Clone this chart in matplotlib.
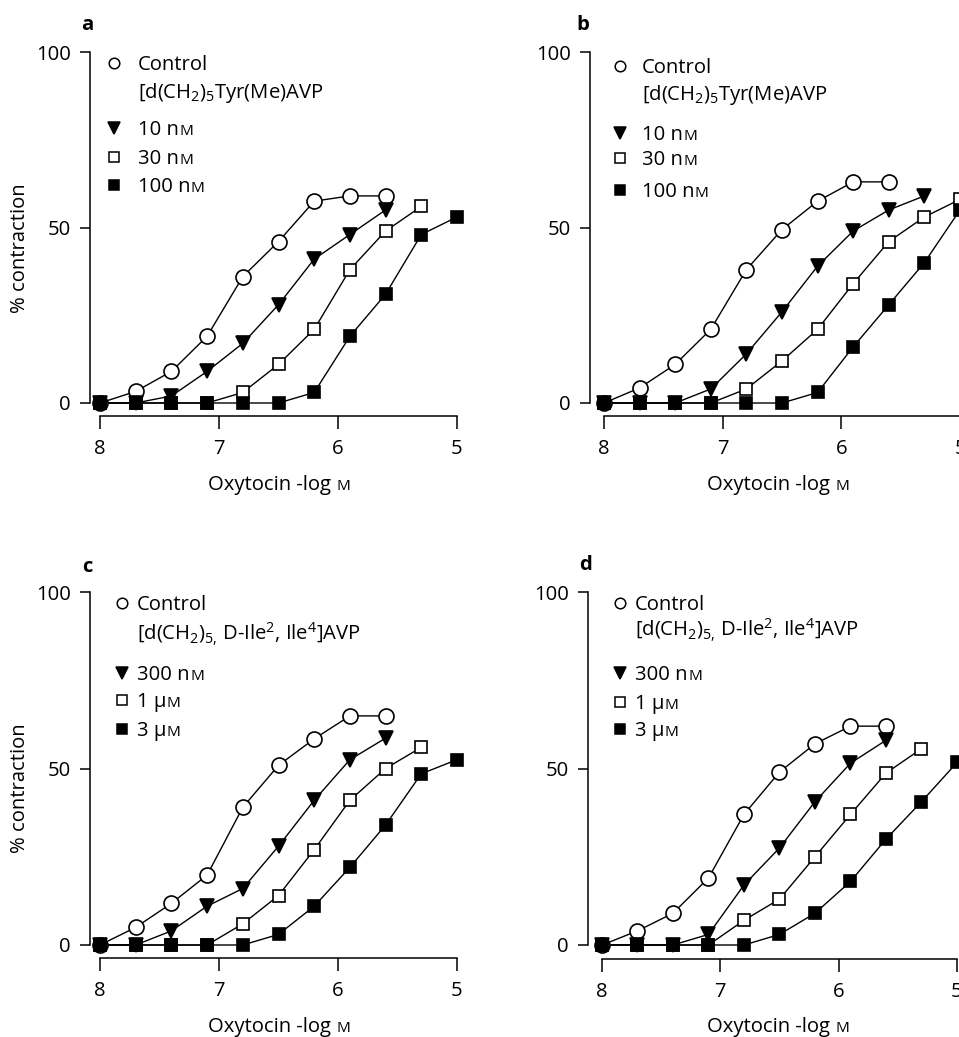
import matplotlib
matplotlib.use('Agg')
import matplotlib.pyplot as plt

W, H = 959, 1037
FONT = 'Open Sans'
plt.rcParams['font.family'] = [FONT, 'DejaVu Sans']
plt.rcParams['mathtext.fontset'] = 'custom'
plt.rcParams['mathtext.rm'] = FONT
plt.rcParams['mathtext.it'] = FONT + ':italic'
plt.rcParams['mathtext.bf'] = FONT + ':bold'
plt.rcParams['mathtext.default'] = 'regular'

# ---------------- data ----------------
log_conc = [8.0, 7.7, 7.4, 7.1, 6.8, 6.5, 6.2, 5.9, 5.6, 5.3, 5.0]

ctrl_a = [0, 3.3, 9, 19, 36, 46, 57.5, 59, 59]
c1_a = [0, 0, 2, 9, 17, 28, 41, 48, 55]
c2_a = [0, 0, 0, 0, 3, 11, 21, 38, 49, 56]
c3_a = [0, 0, 0, 0, 0, 0, 3, 19, 31, 48, 53]

ctrl_b = [0, 4.3, 11, 21, 38, 49.4, 57.5, 63, 63]
c1_b = [0, 0, 0, 4, 14, 26, 39, 49, 55, 59]
c2_b = [0, 0, 0, 0, 4, 12, 21, 34, 46, 53, 58]
c3_b = [0, 0, 0, 0, 0, 0, 3, 16, 28, 40, 55]

ctrl_c = [0, 5, 11.8, 19.8, 39, 50.9, 58.4, 64.9, 64.9]
c1_c = [0, 0, 4, 11, 16, 28, 41, 52.5, 58.6]
c2_c = [0, 0, 0, 0, 6, 14, 27, 41, 50, 56]
c3_c = [0, 0, 0, 0, 0, 3, 11, 22, 34, 48.5, 52.5]

ctrl_d = [0, 4, 9, 19, 37, 49, 57, 62, 62]
c1_d = [0, 0, 0, 3, 17, 27.5, 40.6, 51.5, 58]
c2_d = [0, 0, 0, 0, 7, 13, 25, 37, 48.7, 55.6]
c3_d = [0, 0, 0, 0, 0, 3, 9, 18, 30, 40.6, 51.7]

panel_labels = ['a', 'b', 'c', 'd']
antag_1 = r'[d(CH$_2$)$_5$Tyr(Me)AVP'
antag_2 = r'[d(CH$_2$)$_{5,}\,$D-Ile$^2$, Ile$^4$]AVP'
conc_1 = [('10 n', 'M'), ('30 n', 'M'), ('100 n', 'M')]
conc_2 = [('300 n', 'M'), ('1 \u00b5', 'M'), ('3 \u00b5', 'M')]
x_ticks = [8, 7, 6, 5]
y_ticks = [0, 50, 100]
y_label = '% contraction'
x_label = ('Oxytocin -log', 'M')

# ---------------- layout ----------------
FS = 14.6
PT = 0.72  # points per pixel at dpi 100

panels = [
    dict(lab='a', data=[ctrl_a, c1_a, c2_a, c3_a], antag=antag_1, conc=conc_1,
         rect=(100, 457, 52, 403), loff=10, boff=13,
         labpos=(87, 25), ylab=(20, 248), xlab=(279, 490),
         leg=dict(mx=114, tx=138, ys=[63, 91, 128, 157, 185])),
    dict(lab='b', data=[ctrl_b, c1_b, c2_b, c3_b], antag=antag_1, conc=conc_1,
         rect=(604, 960, 52, 403), loff=14, boff=13,
         labpos=(583, 25), ylab=None, xlab=(778, 490),
         leg=dict(mx=620, tx=642, ys=[66, 93, 133, 158, 190])),
    dict(lab='c', data=[ctrl_c, c1_c, c2_c, c3_c], antag=antag_2, conc=conc_2,
         rect=(100, 457, 592, 945), loff=10, boff=13,
         labpos=(87, 567), ylab=(20, 788), xlab=(279, 1032),
         leg=dict(mx=122, tx=137, ys=[603, 633, 673, 700, 729])),
    dict(lab='d', data=[ctrl_d, c1_d, c2_d, c3_d], antag=antag_2, conc=conc_2,
         rect=(602, 957, 592, 945), loff=14, boff=14,
         labpos=(586, 565), ylab=None, xlab=(778, 1032),
         leg=dict(mx=620, tx=635, ys=[603, 630, 673, 702, 729])),
]

styles = [
    dict(marker='o', ms=10.8, mfc='white', mec='black'),
    dict(marker='v', ms=10.5, mfc='black', mec='black'),
    dict(marker='s', ms=8.6, mfc='white', mec='black'),
    dict(marker='s', ms=8.6, mfc='black', mec='black'),
]
leg_ms = [7.6, 9.0, 7.2, 7.2]

fig = plt.figure(figsize=(W / 100, H / 100), dpi=100)
renderer = fig.canvas.get_renderer()


def fp(x, y):
    return x / W, 1 - y / H


def sc_text(x, yb, main, sc, size=FS, center=False, gap=0.5):
    t1 = fig.text(*fp(x, yb), main, fontsize=size, ha='left', va='baseline')
    t2 = fig.text(*fp(x, yb), sc, fontsize=size * 0.76, ha='left', va='baseline')
    w1 = t1.get_window_extent(renderer).width
    w2 = t2.get_window_extent(renderer).width
    x0 = x - (w1 + gap + w2) / 2 if center else x
    t1.set_position(fp(x0, yb))
    t2.set_position(fp(x0 + w1 + gap, yb))


for p in panels:
    l, r, t, b = p['rect']
    ax = fig.add_axes([l / W, 1 - b / H, (r - l) / W, (b - t) / H])
    ax.set_xlim(8, 5)
    ax.set_ylim(0, 100)
    ax.patch.set_visible(False)
    for s in ['top', 'right']:
        ax.spines[s].set_visible(False)
    ax.spines['left'].set_position(('outward', p['loff'] * PT))
    ax.spines['bottom'].set_position(('outward', p['boff'] * PT))
    for s in ['left', 'bottom']:
        ax.spines[s].set_linewidth(1.1)
    ax.set_xticks(x_ticks)
    ax.set_xticklabels([str(v) for v in x_ticks])
    ax.set_yticks(y_ticks)
    ax.set_yticklabels([str(v) for v in y_ticks])
    ax.tick_params(axis='x', direction='out', length=13 * PT, width=1.1,
                   pad=7.5, labelsize=FS)
    ax.tick_params(axis='y', direction='out', length=10 * PT, width=1.1,
                   pad=6.5, labelsize=FS)

    for i, (vals, st) in enumerate(zip(p['data'], styles)):
        xs = log_conc[:len(vals)]
        ax.plot(xs, vals, color='black', lw=1.0, zorder=2, clip_on=False)
        ax.plot(xs, vals, ls='none', mew=1.2, zorder=3 + i, clip_on=False, **st)

    # legend (manual)
    lg = p['leg']
    ys = lg['ys']
    fig.lines.append(plt.Line2D([fp(lg['mx'], ys[0])[0]], [fp(lg['mx'], ys[0])[1]],
                                transform=fig.transFigure, ls='none', marker='o',
                                ms=leg_ms[0], mfc='white', mec='black', mew=1.1))
    fig.text(*fp(lg['tx'], ys[0] + 7), 'Control', fontsize=FS, ha='left', va='baseline')
    fig.text(*fp(lg['tx'], ys[1] + 7), p['antag'], fontsize=FS, ha='left', va='baseline')
    for k in range(3):
        st = styles[k + 1]
        xx, yy = fp(lg['mx'], ys[k + 2])
        fig.lines.append(plt.Line2D([xx], [yy], transform=fig.transFigure, ls='none',
                                    marker=st['marker'], ms=leg_ms[k + 1],
                                    mfc=st['mfc'], mec='black', mew=1.1))
        main, sc = p['conc'][k]
        sc_text(lg['tx'], ys[k + 2] + 7, main, sc)

    fig.text(*fp(*p['labpos']), p['lab'], fontsize=FS, fontweight='bold',
             ha='center', va='center')
    if p['ylab'] is not None:
        fig.text(*fp(*p['ylab']), y_label, fontsize=FS, rotation=90,
                 ha='center', va='center')
    sc_text(p['xlab'][0], p['xlab'][1], x_label[0], x_label[1], center=True, gap=5.5)

fig.savefig('out.png', dpi=100)
